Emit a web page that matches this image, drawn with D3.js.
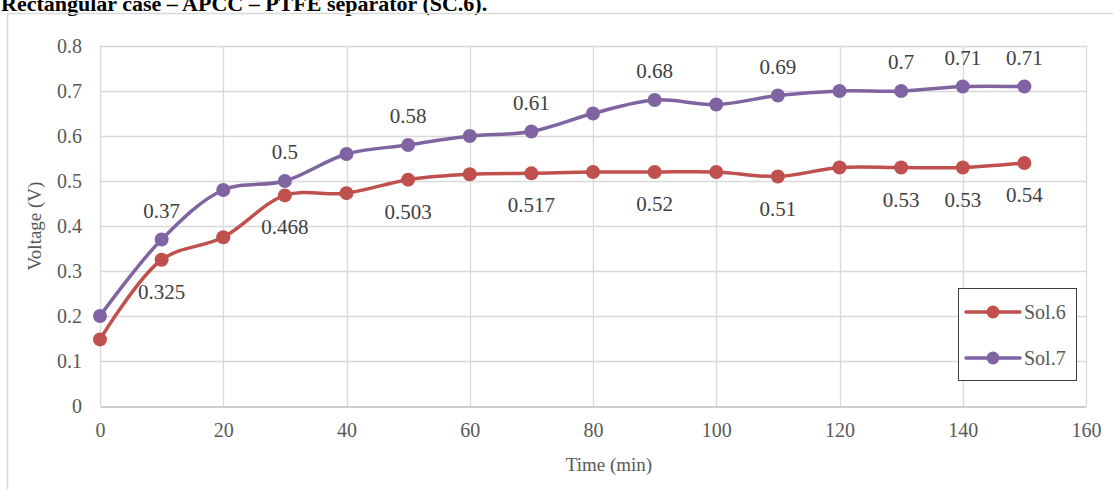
<!DOCTYPE html>
<html><head><meta charset="utf-8">
<script src="https://cdn.jsdelivr.net/npm/d3@7"></script>
<style>body{margin:0;background:#fff;}svg{display:block;}</style>
</head><body>
<svg id="c" width="1113" height="489"></svg>
<script>
const times = [0,10,20,30,40,50,60,70,80,90,100,110,120,130,140,150];
const sol6 = [0.148,0.325,0.375,0.468,0.473,0.503,0.515,0.517,0.52,0.52,0.52,0.51,0.53,0.53,0.53,0.54];
const sol7 = [0.2,0.37,0.48,0.5,0.56,0.58,0.6,0.61,0.65,0.68,0.67,0.69,0.7,0.7,0.71,0.71];
const sol6Labels = [null,"0.325",null,"0.468",null,"0.503",null,"0.517",null,"0.52",null,"0.51",null,"0.53","0.53","0.54"];
const sol7Labels = [null,"0.37",null,"0.5",null,"0.58",null,"0.61",null,"0.68",null,"0.69",null,"0.7","0.71","0.71"];
const xTicks = [0,20,40,60,80,100,120,140,160];
const yTicks = [0,0.1,0.2,0.3,0.4,0.5,0.6,0.7,0.8];
const seriesNames = ["Sol.6","Sol.7"];
const colors = ["#C0504D","#8064A2"];

const svg = d3.select("#c");
const font = "Liberation Serif";
const x = d3.scaleLinear().domain([0,160]).range([100,1086]);
const y = d3.scaleLinear().domain([0,0.8]).range([406,46]);

// title (cut off at top, as in the reference)
svg.append("text").attr("x",1).attr("y",11).attr("font-family",font).attr("font-weight","bold")
  .attr("font-size",22).attr("fill","#000").text("Rectangular case – APCC – PTFE separator (SC.6).");

// chart frame
svg.append("path").attr("d","M7.5,489 V13.5 H1113").attr("fill","none").attr("stroke","#d9d9d9").attr("stroke-width",1.5);

// gridlines
const g = svg.append("g");
g.selectAll(".h").data(yTicks.filter(d=>d>0)).join("line")
  .attr("x1",x(0)).attr("x2",x(160)).attr("y1",d=>Math.round(y(d))+0.5).attr("y2",d=>Math.round(y(d))+0.5)
  .attr("stroke","#d9d9d9").attr("stroke-width",1.3);
g.selectAll(".v").data(xTicks).join("line")
  .attr("x1",d=>Math.round(x(d))+0.5).attr("x2",d=>Math.round(x(d))+0.5).attr("y1",y(0.8)).attr("y2",y(0))
  .attr("stroke","#d9d9d9").attr("stroke-width",1.3);

// axes
const xAxis = d3.axisBottom(x).tickValues(xTicks).tickSize(0).tickPadding(16);
const xa = svg.append("g").attr("transform",`translate(0,${Math.round(y(0))+0.5})`).call(xAxis);
xa.attr("font-family",font).attr("font-size",20);
xa.select(".domain").attr("stroke","#bfbfbf").attr("stroke-width",1.3);
xa.selectAll("text").attr("font-family",font).attr("font-size",20).attr("fill","#595959");

const yAxis = d3.axisLeft(y).tickValues(yTicks).tickSize(0).tickPadding(18).tickFormat(d=>d===0?"0":d3.format(".1f")(d));
const ya = svg.append("g").attr("transform",`translate(${x(0)},0)`).call(yAxis);
ya.attr("font-family",font).attr("font-size",20);
ya.select(".domain").remove();
ya.selectAll("text").attr("font-family",font).attr("font-size",20).attr("fill","#595959");

svg.append("text").attr("x",609).attr("y",471).attr("text-anchor","middle").attr("font-family",font)
  .attr("font-size",19).attr("fill","#595959").text("Time (min)");
svg.append("text").attr("transform","translate(41,226) rotate(-90)").attr("text-anchor","middle").attr("font-family",font)
  .attr("font-size",19).attr("fill","#595959").text("Voltage (V)");

// series
const data = [sol6, sol7];
const labels = [sol6Labels, sol7Labels];
const line = d3.line().x((d,i)=>x(times[i])).y(d=>y(d)).curve(d3.curveCatmullRom.alpha(0.5));
data.forEach((s,k)=>{
  svg.append("path").attr("d",line(s)).attr("fill","none").attr("stroke",colors[k]).attr("stroke-width",3.5).attr("stroke-linecap","round");
});
data.forEach((s,k)=>{
  svg.append("g").selectAll("circle").data(s).join("circle")
    .attr("cx",(d,i)=>x(times[i])).attr("cy",d=>y(d)).attr("r",7).attr("fill",colors[k]);
});
data.forEach((s,k)=>{
  const off = k===0 ? 39 : -22;
  svg.append("g").selectAll("text").data(s.map((d,i)=>({v:d,i:i,l:labels[k][i]})).filter(d=>d.l)).join("text")
    .attr("x",d=>x(times[d.i])).attr("y",d=>y(d.v)+off).attr("text-anchor","middle")
    .attr("font-family",font).attr("font-size",21).attr("fill","#404040").text(d=>d.l);
});

// legend
const lg = svg.append("g");
lg.append("rect").attr("x",958.5).attr("y",288.5).attr("width",118).attr("height",92).attr("fill","#fff").attr("stroke","#404040").attr("stroke-width",1);
seriesNames.forEach((n,k)=>{
  const yy = 312 + k*46;
  lg.append("line").attr("x1",966).attr("x2",1020).attr("y1",yy).attr("y2",yy).attr("stroke",colors[k]).attr("stroke-width",3.5).attr("stroke-linecap","round");
  lg.append("circle").attr("cx",993).attr("cy",yy).attr("r",6.5).attr("fill",colors[k]);
  lg.append("text").attr("x",1024).attr("y",yy+7).attr("font-family",font).attr("font-size",20).attr("fill","#595959").text(n);
});
</script>
</body></html>
